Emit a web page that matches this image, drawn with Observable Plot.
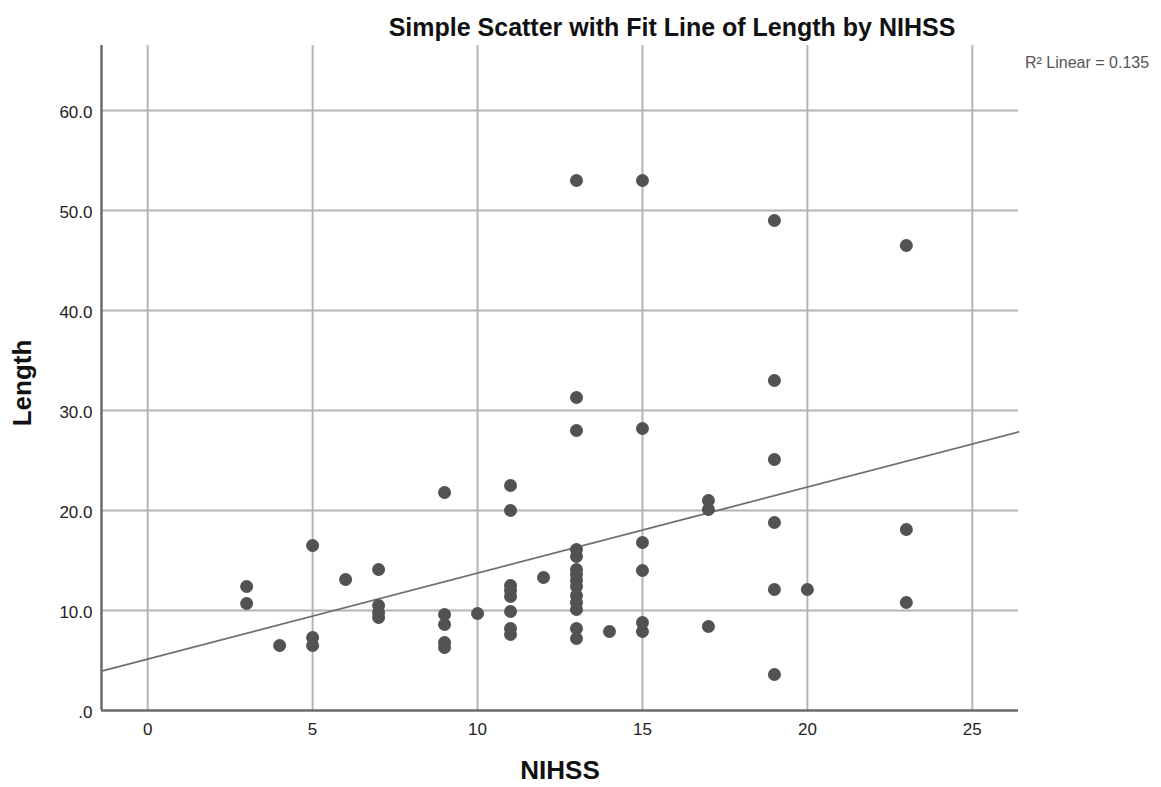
<!DOCTYPE html>
<html>
<head>
<meta charset="utf-8">
<script src="https://cdn.jsdelivr.net/npm/d3@7"></script>
<script src="https://cdn.jsdelivr.net/npm/@observablehq/plot@0.6"></script>
<style>
  html, body { margin: 0; padding: 0; background: #fff; }
  svg { display: block; }
</style>
</head>
<body>
<div id="chart"></div>
<script>
// NIHSS (x) values and Length (y) values
const nihss = [
  3, 3,
  4,
  5, 5, 5,
  6,
  7, 7, 7, 7,
  9, 9, 9, 9, 9,
  10,
  11, 11, 11, 11, 11, 11, 11, 11,
  12,
  13, 13, 13, 13, 13, 13, 13, 13, 13, 13, 13, 13, 13, 13,
  14,
  15, 15, 15, 15, 15, 15,
  17, 17, 17,
  19, 19, 19, 19, 19, 19,
  20,
  23, 23, 23
];
const lengthVals = [
  12.4, 10.7,
  6.5,
  16.5, 7.3, 6.5,
  13.1,
  14.1, 10.5, 9.8, 9.3,
  21.8, 9.6, 8.6, 6.8, 6.3,
  9.7,
  22.5, 20.0, 12.5, 12.0, 11.4, 9.9, 8.2, 7.6,
  13.3,
  53.0, 31.3, 28.0, 16.1, 15.4, 14.1, 13.6, 13.0, 12.4, 11.5, 10.8, 10.1, 8.2, 7.2,
  7.9,
  53.0, 28.2, 16.8, 14.0, 8.8, 7.9,
  21.0, 20.1, 8.4,
  49.0, 33.0, 25.1, 18.8, 12.1, 3.6,
  12.1,
  46.5, 18.1, 10.8
];
const xTicks = [0, 5, 10, 15, 20, 25];
const yTicks = [0, 10, 20, 30, 40, 50, 60];
const xDomain = [-1.4, 26.4];
const yDomain = [0, 66.5];
const titleText = "Simple Scatter with Fit Line of Length by NIHSS";
const r2Text = "R\u00B2 Linear = 0.135";
const xLabel = "NIHSS";
const yLabel = "Length";

const data = nihss.map((x, i) => ({x, y: lengthVals[i]}));

// least-squares fit computed from the data
const mx = d3.mean(data, d => d.x), my = d3.mean(data, d => d.y);
const slope = d3.sum(data, d => (d.x - mx) * (d.y - my)) / d3.sum(data, d => (d.x - mx) ** 2);
const intercept = my - slope * mx;
const fit = xDomain.map(x => ({x, y: intercept + slope * x}));

const W = 1161, H = 787;
const font = "'Liberation Sans', Arial, sans-serif";

const chart = Plot.plot({
  width: W,
  height: H,
  marginLeft: 101,
  marginRight: 143,
  marginTop: 45,
  marginBottom: 77,
  style: {fontFamily: font, background: "#fff"},
  x: {domain: xDomain, ticks: xTicks, label: null},
  y: {domain: yDomain, ticks: yTicks, label: null},
  marks: [
    Plot.gridX(xTicks, {stroke: "#b4b4b4", strokeOpacity: 1, strokeWidth: 2}),
    Plot.gridY(yTicks.filter(d => d > 0), {stroke: "#b4b4b4", strokeOpacity: 1, strokeWidth: 2}),
    Plot.ruleX([xDomain[0]], {stroke: "#6a6a6a", strokeWidth: 2.5}),
    Plot.ruleY([0], {stroke: "#6a6a6a", strokeWidth: 2.5}),
    Plot.axisX(xTicks, {tickSize: 0, tickPadding: 12, fontSize: 17, fill: "#222"}),
    Plot.axisY(yTicks, {tickSize: 0, tickPadding: 9, fontSize: 17, fill: "#222", dy: 2,
      tickFormat: d => d === 0 ? ".0" : d.toFixed(1)}),
    Plot.line(fit, {x: "x", y: "y", stroke: "#6e6e6e", strokeWidth: 1.8}),
    Plot.dot(data, {x: "x", y: "y", r: 6.5, fill: "#525252", stroke: "none"})
  ]
});

const svg = d3.select(chart);
svg.append("text")
  .attr("x", 672).attr("y", 36)
  .attr("text-anchor", "middle")
  .attr("font-family", font).attr("font-weight", "bold").attr("font-size", 25)
  .attr("fill", "#111")
  .text(titleText);
svg.append("text")
  .attr("x", 1025).attr("y", 68)
  .attr("text-anchor", "start")
  .attr("font-family", font).attr("font-size", 16)
  .attr("fill", "#555")
  .text(r2Text);
svg.append("text")
  .attr("x", 560).attr("y", 779)
  .attr("text-anchor", "middle")
  .attr("font-family", font).attr("font-weight", "bold").attr("font-size", 26)
  .attr("fill", "#111")
  .text(xLabel);
svg.append("text")
  .attr("transform", "translate(31,383) rotate(-90)")
  .attr("text-anchor", "middle")
  .attr("font-family", font).attr("font-weight", "bold").attr("font-size", 26)
  .attr("fill", "#111")
  .text(yLabel);

document.getElementById("chart").appendChild(chart);
</script>
</body>
</html>
